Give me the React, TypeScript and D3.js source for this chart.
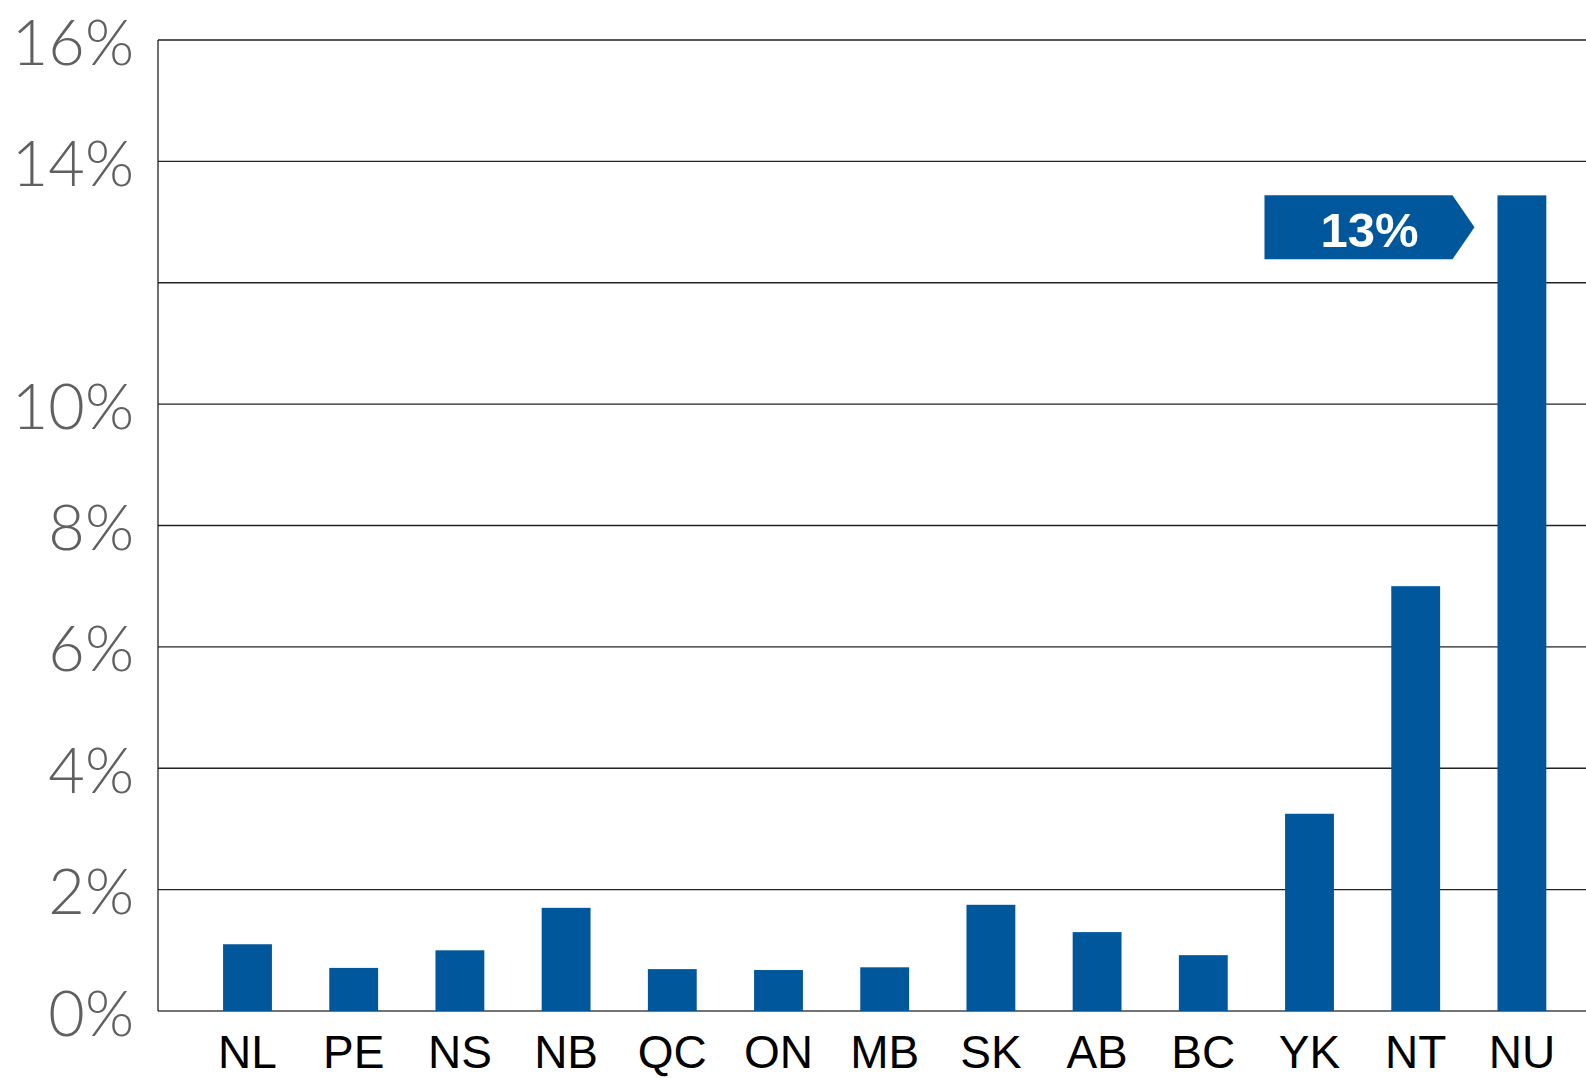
import React, { useEffect } from "react";
import * as d3 from "d3";

const categories = ["NL", "PE", "NS", "NB", "QC", "ON", "MB", "SK", "AB", "BC", "YK", "NT", "NU"];
const values = [1.1, 0.71, 1.0, 1.7, 0.69, 0.675, 0.72, 1.75, 1.3, 0.92, 3.25, 7.0, 13.44];
const tickValues = [0, 2, 4, 6, 8, 10, 12, 14, 16];
const tickLabels = ["0%", "2%", "4%", "6%", "8%", "10%", "", "14%", "16%"];
const highlighted = "NU";

const W = 1586;
const H = 1078;
const BAR = "#01579B";

export default function App() {
  useEffect(() => {
    document.body.style.margin = "0";
  }, []);

  const y = d3.scaleLinear().domain([0, 16]).range([1011, 40]);
  const x = d3
    .scaleBand<string>()
    .domain(categories)
    .range([194.4, 1575])
    .paddingInner(0.54)
    .paddingOuter(0.27);

  const axisX = 158;
  const hiIdx = categories.indexOf(highlighted);
  const hiVal = values[hiIdx];
  const hiLeft = x(highlighted)!;
  const tagTop = y(hiVal);
  const tagTip = hiLeft - 23;
  const tagRectRight = tagTip - 22;
  const tagLeft = tagTip - 210;
  const tagBottom = tagTop + 64;
  const tagMid = (tagTop + tagBottom) / 2;
  const tagPath = `M${tagLeft},${tagTop} L${tagRectRight},${tagTop} L${tagTip},${tagMid} L${tagRectRight},${tagBottom} L${tagLeft},${tagBottom} Z`;

  return (
    <svg
      width={W}
      height={H}
      style={{ display: "block", position: "absolute", left: 0, top: 0, background: "#fff" }}
    >
      {tickValues.map((t) => (
        <line
          key={"g" + t}
          x1={axisX}
          x2={W}
          y1={y(t)}
          y2={y(t)}
          stroke={t === 0 ? "#444" : "#222"}
          strokeWidth={t === 0 ? 1.6 : 1.3}
        />
      ))}
      <line x1={axisX} x2={axisX} y1={y(16)} y2={y(0)} stroke="#222" strokeWidth={1.3} />
      {tickValues.map((t, i) => (
        <text
          key={"t" + t}
          x={134}
          y={y(t)}
          textAnchor="end"
          dominantBaseline="central"
          fontFamily="Lato, 'Open Sans', sans-serif"
          fontWeight={300}
          fontSize={63}
          fill="#606060"
        >
          {tickLabels[i]}
        </text>
      ))}
      {categories.map((c, i) => (
        <rect
          key={c}
          x={x(c)}
          y={y(values[i])}
          width={x.bandwidth()}
          height={y(0) - y(values[i])}
          fill={BAR}
        />
      ))}
      {categories.map((c) => (
        <text
          key={"l" + c}
          x={x(c)! + x.bandwidth() / 2}
          y={1068}
          textAnchor="middle"
          fontFamily="'Liberation Sans', Arial, sans-serif"
          fontSize={46}
          fill="#000"
        >
          {c}
        </text>
      ))}
      <path d={tagPath} fill={BAR} />
      <text
        x={(tagLeft + tagTip) / 2}
        y={tagTop + 52}
        textAnchor="middle"
        fontFamily="'Liberation Sans', Arial, sans-serif"
        fontWeight="bold"
        fontSize={49}
        fill="#fff"
      >
        {d3.format(".0%")(Math.round(hiVal) / 100)}
      </text>
    </svg>
  );
}
